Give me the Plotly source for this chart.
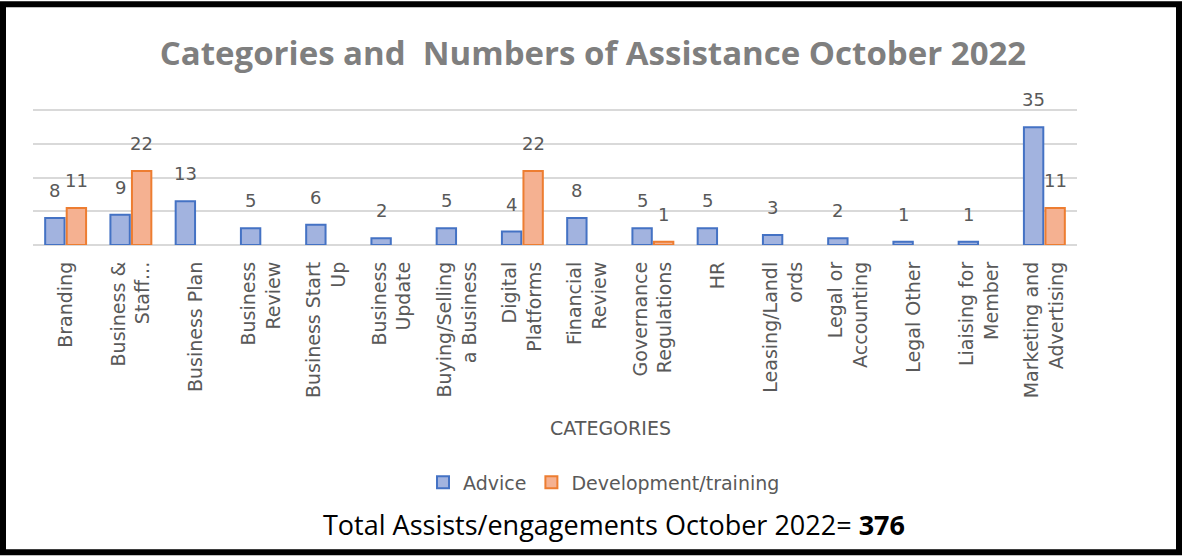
import plotly.graph_objects as go

categories = ["Branding", "Business &<br>Staff...", "Business Plan", "Business<br>Review",
              "Business Start<br>Up", "Business<br>Update", "Buying/Selling<br>a Business",
              "Digital<br>Platforms", "Financial<br>Review", "Governance<br>Regulations", "HR",
              "Leasing/Landl<br>ords", "Legal or<br>Accounting", "Legal Other",
              "Liaising for<br>Member", "Marketing and<br>Advertising"]
advice = [8, 9, 13, 5, 6, 2, 5, 4, 8, 5, 5, 3, 2, 1, 1, 35]
development = [11, 22, None, None, None, None, None, 22, None, 1, None, None, None, None, None, 11]

W, H = 1182, 556
YMAX = 41
L, R, B = 33, 1077, 245
T = B - 135 * YMAX / 40  # so that 40 sits at y=110

def px(x):
    return (x - L) / (R - L)

def py(y):
    return (B - y) / (B - T)

FONT = "DejaVu Sans"
GRAY = "#595959"

fig = go.Figure()
fig.add_trace(go.Bar(
    x=categories, y=advice, name="Advice",
    marker=dict(color="#a2b3df", line=dict(color="#4472C4", width=2)),
))
fig.add_trace(go.Bar(
    x=categories, y=development, name="Development/training",
    marker=dict(color="#f5b191", line=dict(color="#ED7D31", width=2)),
))

slot = (R - L) / len(categories) * (1 - 0.34) / 2
for vals, sh in ((advice, -slot / 2), (development, slot / 2)):
    for c, v in zip(categories, vals):
        if v is None:
            continue
        fig.add_annotation(x=c, y=v, text=str(v), xshift=sh, yshift=15,
                           yanchor="bottom", xanchor="center", showarrow=False,
                           font=dict(family=FONT, size=18, color=GRAY))

fig.update_layout(
    width=W, height=H,
    margin=dict(l=L, r=W - R, t=T, b=H - B, autoexpand=False),
    paper_bgcolor="white", plot_bgcolor="white",
    barmode="group", bargap=0.34, bargroupgap=0.1,
    font=dict(family=FONT, color=GRAY),
    title=dict(text="<b>Categories and  Numbers of Assistance October 2022</b>",
               font=dict(family="Open Sans", size=33, color="#7f7f7f"),
               x=px(593), xref="paper", xanchor="center", y=1 - 53 / H, yanchor="middle"),
    showlegend=True,
    legend=dict(orientation="h", x=px(604), xanchor="center",
                y=py(483), yanchor="middle",
                font=dict(family=FONT, size=19, color=GRAY),
                itemsizing="constant", traceorder="normal"),
    xaxis=dict(tickangle=-90, tickfont=dict(family=FONT, size=19, color=GRAY),
               showgrid=False, ticks="", showline=False, automargin=False,
               ticklabelstandoff=12),
    yaxis=dict(range=[0, YMAX], dtick=10, showticklabels=False, showgrid=True, automargin=False,
               gridcolor="#d9d9d9", gridwidth=2, zeroline=True, zerolinecolor="#d9d9d9",
               zerolinewidth=2, ticks=""),
)

fig.add_annotation(text="CATEGORIES", xref="paper", yref="paper", x=px(610), y=py(428),
                   xanchor="center", yanchor="middle", showarrow=False,
                   font=dict(family=FONT, size=19, color=GRAY))

fig.add_annotation(text="Total Assists/engagements October 2022= <b>376</b>",
                   xref="paper", yref="paper", x=px(614), y=py(525),
                   xanchor="center", yanchor="middle", showarrow=False,
                   font=dict(family="Open Sans", size=27, color="black"))

fig.add_shape(type="rect", xref="paper", yref="paper",
              x0=px(3), x1=px(1179), y0=py(3.5), y1=py(553),
              line=dict(color="black", width=6), fillcolor="rgba(0,0,0,0)", layer="above")

fig.write_html("out.html", config={"displayModeBar": False},
               post_script="document.body.style.margin='0';document.body.style.overflow='hidden';")
